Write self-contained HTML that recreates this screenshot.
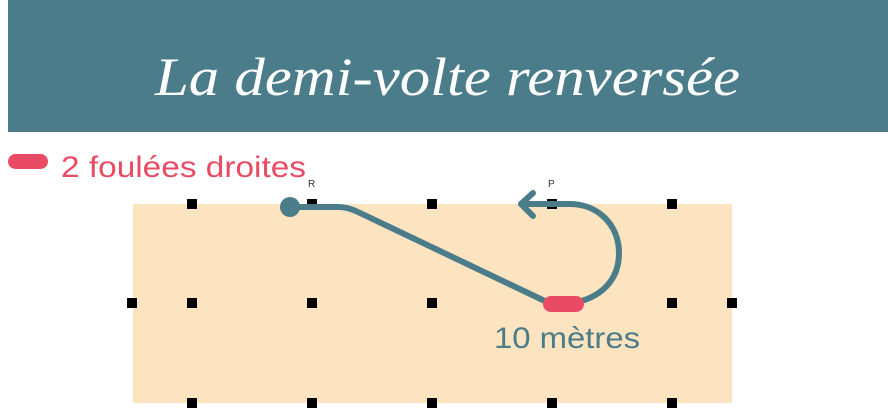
<!DOCTYPE html>
<html><head><meta charset="utf-8"><style>
html,body{margin:0;padding:0;background:#fff;width:888px;height:410px;overflow:hidden}
</style></head><body>
<svg width="888" height="410" xmlns="http://www.w3.org/2000/svg">
<rect x="8" y="0" width="880" height="132" fill="#4a7c8a"/>
<text x="155" y="95" font-family="Liberation Serif, serif" font-style="italic" font-size="54" fill="#fff" textLength="585" lengthAdjust="spacingAndGlyphs">La demi-volte renversée</text>
<rect x="8" y="154" width="40" height="15" rx="7.5" fill="#e94b64"/>
<text x="61" y="177" font-family="Liberation Sans, sans-serif" font-size="30" fill="#e94b64" textLength="245" lengthAdjust="spacingAndGlyphs">2 foulées droites</text>
<rect x="133" y="204" width="599" height="199" fill="#fde4c1"/>
<g fill="#000">
<rect x="187" y="199" width="10" height="10"/><rect x="307" y="199" width="10" height="10"/><rect x="427" y="199" width="10" height="10"/><rect x="547" y="199" width="10" height="10"/><rect x="667" y="199" width="10" height="10"/>
<rect x="127" y="298" width="10" height="10"/><rect x="187" y="298" width="10" height="10"/><rect x="307" y="298" width="10" height="10"/><rect x="427" y="298" width="10" height="10"/><rect x="547" y="298" width="10" height="10"/><rect x="667" y="298" width="10" height="10"/><rect x="727" y="298" width="10" height="10"/>
<rect x="187" y="398" width="10" height="10"/><rect x="307" y="398" width="10" height="10"/><rect x="427" y="398" width="10" height="10"/><rect x="547" y="398" width="10" height="10"/><rect x="667" y="398" width="10" height="10"/>
</g>
<text x="308" y="187" font-family="Liberation Sans, sans-serif" font-size="10" fill="#333">R</text>
<text x="548" y="187" font-family="Liberation Sans, sans-serif" font-size="10" fill="#333">P</text>
<g fill="none" stroke="#4a7c8a" stroke-width="6" stroke-linecap="round" stroke-linejoin="round">
<path d="M289 207 L338 207 Q348 207 358 212 L549 303"/>
<path d="M578 302 C605 295 619 277 619 253 C619 225 598 204 570 204 L521 204"/>
<path d="M533 193 L521 204 L533 216"/>
</g>
<circle cx="290" cy="207" r="10" fill="#4a7c8a"/>
<rect x="543" y="296" width="41" height="16" rx="8" fill="#e94b64"/>
<text x="494" y="348" font-family="Liberation Sans, sans-serif" font-size="30" fill="#4a7c8a" textLength="146" lengthAdjust="spacingAndGlyphs">10 mètres</text>
</svg>
</body></html>
